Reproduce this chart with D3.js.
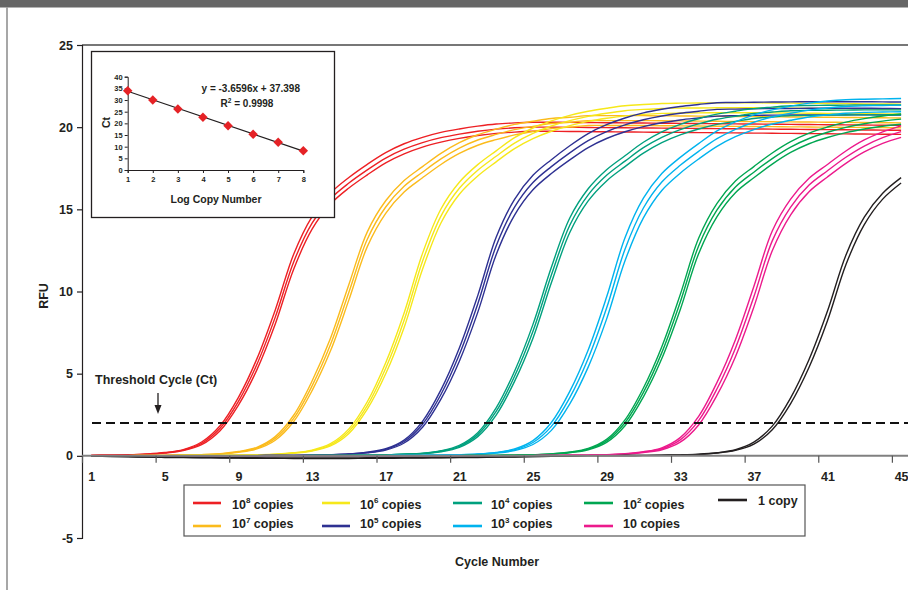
<!DOCTYPE html>
<html><head><meta charset="utf-8">
<script src="https://cdn.jsdelivr.net/npm/d3@7/dist/d3.min.js"></script>
<style>
html,body{margin:0;padding:0;background:#fff;}
svg{display:block;font-family:"Liberation Sans",Arial,Helvetica,sans-serif;font-weight:bold;}
</style></head><body>
<svg id="chart" width="908" height="590"></svg>
<script>
// ---------------- DATA ----------------
const cycles = [1,2,3,4,5,6,7,8,9,10,11,12,13,14,15,16,17,18,19,20,21,22,23,24,25,26,27,28,29,30,31,32,33,34,35,36,37,38,39,40,41,42,43,44,45];
const xTickLabels = [1,5,9,13,17,21,25,29,33,37,41,45];
const xTickMarks = [0.5,4.5,8.5,12.5,16.5,20.5,24.5,28.5,32.5,36.5,40.5,44.5];
const yTickLabels = [-5,0,5,10,15,20,25];
const thresholdRFU = 2;

// RFU per cycle, replicate curves for each dilution
const copies1e8 = [
 [0.03,0.04,0.06,0.11,0.2,0.38,0.84,1.83,3.56,5.9,8.88,12.27,14.56,15.99,16.94,17.74,18.45,18.99,19.38,19.68,19.89,20.06,20.19,20.26,20.3,20.3,20.29,20.28,20.27,20.26,20.25,20.24,20.23,20.22,20.21,20.2,20.19,20.18,20.17,20.16,20.15,20.14,20.13,20.12,20.11],
 [0.03,0.04,0.06,0.1,0.18,0.35,0.76,1.68,3.32,5.56,8.44,11.8,14.16,15.64,16.6,17.4,18.12,18.66,19.06,19.36,19.58,19.75,19.88,19.96,20.0,20.0,19.99,19.98,19.97,19.96,19.95,19.94,19.93,19.92,19.91,19.9,19.89,19.88,19.87,19.86,19.85,19.84,19.83,19.82,19.81],
 [0.03,0.04,0.06,0.09,0.17,0.32,0.68,1.53,3.09,5.23,8.02,11.36,13.79,15.32,16.3,17.1,17.83,18.38,18.79,19.09,19.32,19.49,19.62,19.7,19.75,19.75,19.74,19.73,19.72,19.71,19.7,19.69,19.68,19.67,19.66,19.65,19.64,19.63,19.62,19.61,19.6,19.59,19.58,19.57,19.56]
];
const copies1e7 = [
 [0.01,0.01,0.015,0.02,0.03,0.05,0.075,0.13,0.26,0.52,1.17,2.47,4.55,7.15,10.43,13.63,15.52,16.75,17.6,18.41,19.06,19.54,19.88,20.17,20.36,20.53,20.6,20.7,20.7,20.7,20.7,20.69,20.68,20.67,20.66,20.65,20.64,20.63,20.62,20.61,20.6,20.59,20.58,20.57,20.56],
 [0.01,0.01,0.015,0.02,0.03,0.047,0.07,0.12,0.24,0.47,1.06,2.28,4.26,6.77,9.96,13.18,15.14,16.4,17.26,18.07,18.73,19.22,19.56,19.85,20.05,20.22,20.3,20.4,20.4,20.4,20.4,20.39,20.38,20.37,20.36,20.35,20.34,20.33,20.32,20.31,20.3,20.29,20.28,20.27,20.26],
 [0.01,0.01,0.015,0.02,0.03,0.045,0.065,0.11,0.22,0.42,0.95,2.09,3.97,6.39,9.49,12.73,14.76,16.05,16.92,17.73,18.4,18.9,19.24,19.53,19.74,19.91,20.0,20.1,20.1,20.1,20.1,20.09,20.08,20.07,20.06,20.05,20.04,20.03,20.02,20.01,20.0,19.99,19.98,19.97,19.96]
];
const copies1e6 = [
 [0.01,0.01,0.01,0.012,0.014,0.017,0.02,0.027,0.04,0.065,0.1,0.19,0.35,0.74,1.64,3.29,5.66,8.69,12.32,15.02,16.65,17.72,18.56,19.36,19.95,20.38,20.72,20.97,21.15,21.3,21.38,21.44,21.46,21.47,21.48,21.48,21.48,21.47,21.46,21.45,21.44,21.43,21.42,21.41,21.4],
 [0.01,0.01,0.01,0.012,0.014,0.017,0.02,0.026,0.04,0.06,0.09,0.17,0.32,0.67,1.5,3.06,5.33,8.25,11.84,14.59,16.28,17.38,18.23,19.03,19.62,20.07,20.4,20.66,20.85,21.0,21.08,21.14,21.16,21.17,21.18,21.18,21.18,21.17,21.16,21.15,21.14,21.13,21.12,21.11,21.1],
 [0.01,0.01,0.01,0.012,0.014,0.017,0.02,0.026,0.04,0.055,0.08,0.16,0.29,0.6,1.36,2.84,4.99,7.81,11.35,14.17,15.92,17.03,17.89,18.69,19.3,19.75,20.09,20.35,20.54,20.69,20.78,20.84,20.86,20.87,20.88,20.88,20.88,20.87,20.86,20.85,20.84,20.83,20.82,20.81,20.8]
];
const copies1e5 = [
 [0.01,0.01,0.01,0.01,0.01,0.01,0.01,0.012,0.013,0.015,0.02,0.03,0.04,0.065,0.11,0.22,0.43,0.96,2.1,4.01,6.56,9.75,13.3,15.61,17.07,18.02,18.87,19.61,20.15,20.56,20.87,21.09,21.26,21.38,21.49,21.5,21.52,21.53,21.54,21.55,21.55,21.55,21.55,21.54,21.53],
 [0.01,0.01,0.01,0.01,0.01,0.01,0.01,0.012,0.013,0.015,0.02,0.03,0.04,0.065,0.11,0.2,0.39,0.87,1.92,3.73,6.16,9.24,12.77,15.13,16.63,17.6,18.44,19.18,19.73,20.14,20.45,20.68,20.85,20.97,21.08,21.1,21.12,21.13,21.14,21.15,21.15,21.15,21.15,21.14,21.13],
 [0.01,0.01,0.01,0.01,0.01,0.01,0.01,0.012,0.013,0.015,0.02,0.03,0.04,0.06,0.1,0.18,0.35,0.78,1.74,3.45,5.76,8.73,12.24,14.65,16.19,17.18,18.01,18.76,19.31,19.72,20.03,20.27,20.44,20.56,20.67,20.7,20.72,20.73,20.74,20.75,20.75,20.75,20.75,20.74,20.73]
];
const copies1e4 = [
 [0.01,0.01,0.01,0.01,0.01,0.01,0.01,0.01,0.01,0.01,0.012,0.014,0.017,0.02,0.03,0.04,0.06,0.1,0.16,0.31,0.64,1.41,2.92,5.15,8.0,11.47,14.47,16.25,17.41,18.26,19.08,19.71,20.17,20.51,20.79,20.97,21.13,21.22,21.3,21.32,21.33,21.34,21.35,21.35,21.35],
 [0.01,0.01,0.01,0.01,0.01,0.01,0.01,0.01,0.01,0.01,0.012,0.014,0.017,0.02,0.03,0.04,0.06,0.1,0.145,0.28,0.58,1.29,2.7,4.84,7.58,11.0,14.03,15.88,17.07,17.93,18.75,19.38,19.85,20.2,20.48,20.66,20.83,20.92,21.0,21.02,21.03,21.04,21.05,21.05,21.05],
 [0.01,0.01,0.01,0.01,0.01,0.01,0.01,0.01,0.01,0.01,0.012,0.014,0.017,0.02,0.03,0.04,0.06,0.1,0.13,0.25,0.52,1.17,2.48,4.53,7.16,10.53,13.59,15.51,16.73,17.6,18.42,19.06,19.53,19.89,20.17,20.35,20.53,20.62,20.7,20.72,20.73,20.74,20.75,20.75,20.75]
];
const copies1e3 = [
 [0.01,0.01,0.01,0.01,0.01,0.01,0.01,0.01,0.01,0.01,0.01,0.01,0.012,0.012,0.014,0.014,0.015,0.02,0.028,0.043,0.065,0.11,0.21,0.42,0.93,2.03,3.92,6.44,9.66,13.27,15.68,17.18,18.16,19.0,19.77,20.32,20.75,21.05,21.28,21.46,21.59,21.67,21.7,21.72,21.74],
 [0.01,0.01,0.01,0.01,0.01,0.01,0.01,0.01,0.01,0.01,0.01,0.01,0.012,0.012,0.014,0.014,0.015,0.02,0.028,0.043,0.065,0.1,0.19,0.37,0.81,1.79,3.54,5.92,8.99,12.57,15.08,16.66,17.68,18.53,19.3,19.87,20.3,20.62,20.85,21.04,21.17,21.26,21.3,21.32,21.34],
 [0.01,0.01,0.01,0.01,0.01,0.01,0.01,0.01,0.01,0.01,0.01,0.01,0.012,0.012,0.014,0.014,0.015,0.02,0.028,0.043,0.065,0.09,0.17,0.32,0.69,1.55,3.16,5.4,8.32,11.87,14.48,16.15,17.2,18.06,18.83,19.42,19.85,20.19,20.42,20.62,20.75,20.85,20.9,20.92,20.94]
];
const copies1e2 = [
 [0.01,0.01,0.01,0.01,0.01,0.01,0.01,0.01,0.01,0.01,0.01,0.01,0.01,0.01,0.01,0.01,0.01,0.01,0.01,0.01,0.015,0.02,0.029,0.043,0.066,0.12,0.23,0.45,1.0,2.19,4.13,6.64,9.81,13.24,15.36,16.72,17.6,18.43,19.12,19.64,20.01,20.31,20.52,20.68,20.8],
 [0.01,0.01,0.01,0.01,0.01,0.01,0.01,0.01,0.01,0.01,0.01,0.01,0.01,0.01,0.01,0.01,0.01,0.01,0.01,0.01,0.015,0.02,0.029,0.043,0.066,0.11,0.21,0.41,0.91,2.01,3.86,6.28,9.35,12.77,14.96,16.36,17.26,18.09,18.79,19.31,19.69,19.99,20.21,20.37,20.49],
 [0.01,0.01,0.01,0.01,0.01,0.01,0.01,0.01,0.01,0.01,0.01,0.01,0.01,0.01,0.01,0.01,0.01,0.01,0.01,0.01,0.015,0.02,0.029,0.043,0.066,0.1,0.19,0.37,0.82,1.83,3.59,5.92,8.89,12.3,14.56,16.01,16.92,17.75,18.46,18.99,19.37,19.67,19.89,20.06,20.18]
];
const copies10 = [
 [0.01,0.01,0.01,0.01,0.01,0.01,0.01,0.01,0.01,0.01,0.01,0.01,0.01,0.01,0.01,0.01,0.01,0.01,0.01,0.01,0.01,0.01,0.01,0.01,0.014,0.02,0.031,0.045,0.07,0.13,0.25,0.49,1.11,2.4,4.47,7.07,10.31,13.68,15.62,16.89,17.73,18.55,19.22,19.71,20.08],
 [0.01,0.01,0.01,0.01,0.01,0.01,0.01,0.01,0.01,0.01,0.01,0.01,0.01,0.01,0.01,0.01,0.01,0.01,0.01,0.01,0.01,0.01,0.01,0.01,0.014,0.02,0.031,0.045,0.068,0.113,0.227,0.43,0.97,2.14,4.08,6.55,9.68,13.08,15.14,16.48,17.35,18.17,18.85,19.36,19.73],
 [0.01,0.01,0.01,0.01,0.01,0.01,0.01,0.01,0.01,0.01,0.01,0.01,0.01,0.01,0.01,0.01,0.01,0.01,0.01,0.01,0.01,0.01,0.01,0.01,0.014,0.02,0.031,0.045,0.06,0.1,0.2,0.37,0.83,1.88,3.69,6.03,9.05,12.48,14.67,16.07,16.97,17.8,18.49,19.01,19.38]
];
const copies1 = [
 [-0.02,-0.04,-0.06,-0.08,-0.1,-0.11,-0.12,-0.13,-0.14,-0.15,-0.15,-0.16,-0.16,-0.16,-0.16,-0.15,-0.15,-0.14,-0.13,-0.12,-0.11,-0.1,-0.08,-0.07,-0.05,-0.03,-0.01,0.01,0.012,0.018,0.026,0.04,0.06,0.1,0.19,0.37,0.83,1.81,3.53,5.86,8.81,12.21,14.53,15.98,16.93],
 [-0.01,-0.03,-0.05,-0.07,-0.08,-0.09,-0.1,-0.11,-0.12,-0.12,-0.13,-0.13,-0.13,-0.13,-0.13,-0.12,-0.12,-0.11,-0.1,-0.1,-0.09,-0.08,-0.07,-0.06,-0.04,-0.02,0.0,0.01,0.012,0.018,0.026,0.04,0.06,0.09,0.17,0.33,0.71,1.59,3.18,5.39,8.22,11.63,14.07,15.62,16.6]
];

const seriesNames = ["10^8 copies","10^7 copies","10^6 copies","10^5 copies","10^4 copies","10^3 copies","10^2 copies","10 copies","1 copy"];
const seriesColors = ["#ed2024","#fbbb1c","#f6e81a","#2e3192","#00a07e","#00b3ee","#00a651","#ec1a8c","#231f20"];
const seriesData = [copies1e8,copies1e7,copies1e6,copies1e5,copies1e4,copies1e3,copies1e2,copies10,copies1];

// inset standard curve
const logCopyNumber = [1,2,3,4,5,6,7,8];
const ctValues = [34.0,30.0,26.2,22.6,19.0,15.3,11.9,8.3];
const fitSlope = -3.6596, fitIntercept = 37.398;
const insetYTicks = [0,5,10,15,20,25,30,35,40];
const fitLabel = "y = -3.6596x + 37.398";
const r2Label = ["R", "2", " = 0.9998"];

// ---------------- DRAW ----------------
const svg = d3.select("#chart");
const ink = "#231f20";
const FONT = "Liberation Sans, Arial, sans-serif";

// page frame
svg.append("rect").attr("x",0).attr("y",0).attr("width",908).attr("height",7.5).attr("fill","#666");
svg.append("line").attr("x1",7).attr("x2",7).attr("y1",7.5).attr("y2",590).attr("stroke","#8a8a8a").attr("stroke-width",1.5);

const x = d3.scaleLinear().domain([0.5,45.5]).range([82,910.3]);
const y = d3.scaleLinear().domain([-5,25]).range([538,45]);

// top border
svg.append("line").attr("x1",x(0.5)).attr("x2",908).attr("y1",y(25)).attr("y2",y(25)).attr("stroke","#777").attr("stroke-width",2);

// y axis
const yAxis = svg.append("g").attr("transform",`translate(${x(0.5)},0)`)
  .call(d3.axisLeft(y).tickValues(yTickLabels).tickSize(5).tickPadding(4).tickFormat(d=>String(d)));
yAxis.select(".domain").attr("stroke",ink).attr("stroke-width",1.2);
yAxis.selectAll(".tick line").attr("stroke",ink).attr("stroke-width",1.2);
yAxis.selectAll("text").attr("fill",ink).attr("font-size",12.5).attr("font-family",FONT).attr("font-weight","bold");

// curves
const line = d3.line().x((d,i)=>x(cycles[i])).y(d=>y(d)).curve(d3.curveCatmullRom.alpha(0.5));
const curves = svg.append("g");
seriesData.forEach((reps,si)=>{
  reps.forEach(r=>{
    curves.append("path").attr("d",line(r)).attr("fill","none")
      .attr("stroke",seriesColors[si]).attr("stroke-width",1.4);
  });
});

// x axis at y=0
const xAxisG = svg.append("g").attr("transform",`translate(0,${y(0)})`);
xAxisG.append("line").attr("x1",x(0.5)).attr("x2",908).attr("stroke","#808080").attr("stroke-width",2);
const xTicksG = xAxisG.append("g").call(d3.axisBottom(x).tickValues(xTickMarks).tickSize(7).tickFormat(""));
xTicksG.select(".domain").remove();
xTicksG.selectAll(".tick line").attr("stroke","#555").attr("stroke-width",1.2);
const xLab = xAxisG.append("g").call(d3.axisBottom(x).tickValues(xTickLabels).tickSize(0).tickPadding(16).tickFormat(d=>String(d)));
xLab.select(".domain").remove();
xLab.selectAll("text").attr("fill",ink).attr("font-size",12.5).attr("font-family",FONT).attr("font-weight","bold");

// threshold line
svg.append("line").attr("x1",92).attr("x2",908).attr("y1",y(thresholdRFU)).attr("y2",y(thresholdRFU))
  .attr("stroke","#111").attr("stroke-width",2).attr("stroke-dasharray","9,5");
svg.append("text").attr("x",95).attr("y",384).attr("font-size",12.5).attr("fill",ink).text("Threshold Cycle (Ct)");
svg.append("line").attr("x1",158).attr("x2",158).attr("y1",393).attr("y2",407).attr("stroke",ink).attr("stroke-width",1.3);
svg.append("path").attr("d","M154.5,405 L161.5,405 L158,414 Z").attr("fill",ink);

// axis titles
svg.append("text").attr("transform","translate(48,296) rotate(-90)").attr("text-anchor","middle")
  .attr("font-size",12.5).attr("fill",ink).text("RFU");
svg.append("text").attr("x",497).attr("y",566).attr("text-anchor","middle").attr("font-size",12.5).attr("fill",ink).text("Cycle Number");

// legend
const lg = svg.append("g");
lg.append("rect").attr("x",184).attr("y",485).attr("width",621).attr("height",51).attr("fill","#fff").attr("stroke","#555").attr("stroke-width",1.2);
const colX = [[193,221,232],[322,350,360],[453,482,491],[584,613,623],[718,747,758]];
const rowLineY = [503,526], rowTextY = [508.5,528];
seriesNames.forEach((name,i)=>{
  const col = Math.floor(i/2), row = i%2;
  const ly = (i===8)? 500 : rowLineY[row];
  const ty = (i===8)? 505 : rowTextY[row];
  lg.append("line").attr("x1",colX[col][0]).attr("x2",colX[col][1]).attr("y1",ly).attr("y2",ly)
    .attr("stroke",seriesColors[i]).attr("stroke-width",2.6);
  const t = lg.append("text").attr("x",colX[col][2]).attr("y",ty).attr("font-size",12.5).attr("fill",ink);
  const m = name.match(/^10\^(\d)(.*)$/);
  if(m){
    t.append("tspan").text("10");
    t.append("tspan").attr("font-size",8).attr("dy",-5.5).text(m[1]);
    t.append("tspan").attr("dy",5.5).text(m[2]);
  } else t.text(name);
});

// inset
const ins = svg.append("g");
ins.append("rect").attr("x",91.5).attr("y",51.5).attr("width",243).attr("height",166).attr("fill","#fff").attr("stroke",ink).attr("stroke-width",1.3);
const ix = d3.scaleLinear().domain([1,8]).range([127.7,303.3]);
const iy = d3.scaleLinear().domain([0,40]).range([170,76.7]);
const iya = ins.append("g").attr("transform",`translate(${ix(1)},0)`)
  .call(d3.axisLeft(iy).tickValues(insetYTicks).tickSize(3).tickPadding(2).tickFormat(d=>String(d)));
const ixa = ins.append("g").attr("transform",`translate(0,${iy(0)})`)
  .call(d3.axisBottom(ix).tickValues(logCopyNumber).tickSize(3).tickPadding(4).tickFormat(d=>String(d)));
[iya,ixa].forEach(g=>{
  g.select(".domain").attr("stroke",ink).attr("stroke-width",1);
  g.selectAll(".tick line").attr("stroke",ink);
  g.selectAll("text").attr("fill",ink).attr("font-size",7.5).attr("font-family",FONT).attr("font-weight","bold");
});
ins.append("line").attr("x1",ix(1)).attr("x2",ix(8))
  .attr("y1",iy(fitSlope*1+fitIntercept)).attr("y2",iy(fitSlope*8+fitIntercept))
  .attr("stroke",ink).attr("stroke-width",1.2);
const diamond = {draw(ctx,size){const r=Math.sqrt(size)/2; ctx.moveTo(0,-r);ctx.lineTo(r,0);ctx.lineTo(0,r);ctx.lineTo(-r,0);ctx.closePath();}};
ins.selectAll(".pt").data(logCopyNumber).join("path")
  .attr("transform",(d,i)=>`translate(${ix(d)},${iy(ctValues[i])})`)
  .attr("d",d3.symbol().type(diamond).size(90)).attr("fill","#e52226");
ins.append("text").attr("x",300).attr("y",91.5).attr("text-anchor","end").attr("font-size",10).attr("fill",ink).text(fitLabel);
const r2 = ins.append("text").attr("x",247).attr("y",107).attr("text-anchor","middle").attr("font-size",10).attr("fill",ink);
r2.append("tspan").text(r2Label[0]);
r2.append("tspan").attr("font-size",6.5).attr("dy",-4).text(r2Label[1]);
r2.append("tspan").attr("dy",4).text(r2Label[2]);
ins.append("text").attr("x",216).attr("y",203).attr("text-anchor","middle").attr("font-size",10.5).attr("fill",ink).text("Log Copy Number");
ins.append("text").attr("transform","translate(109.5,122.5) rotate(-90)").attr("text-anchor","middle").attr("font-size",10.5).attr("fill",ink).text("Ct");
</script>
</body></html>
